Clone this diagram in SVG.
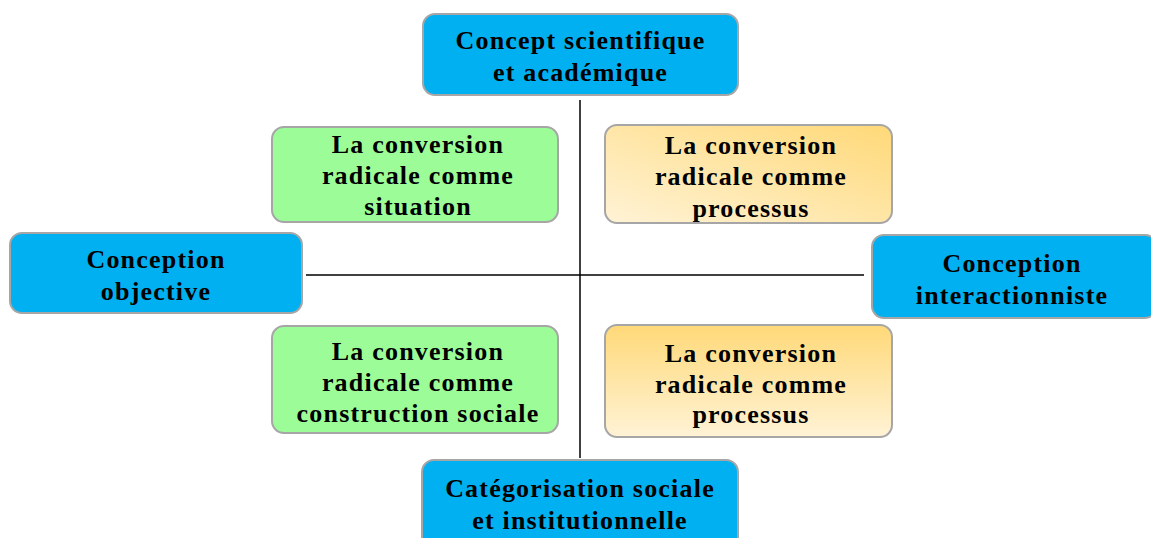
<svg xmlns="http://www.w3.org/2000/svg" width="1151" height="538" viewBox="0 0 1151 538">
<defs>
<linearGradient id="gOr1" x1="1" y1="0" x2="0" y2="1">
<stop offset="0" stop-color="#FFD978"/>
<stop offset="1" stop-color="#FFF3D6"/>
</linearGradient>
<linearGradient id="gOr2" x1="0" y1="0" x2="0" y2="1">
<stop offset="0" stop-color="#FFD978"/>
<stop offset="1" stop-color="#FFF3D6"/>
</linearGradient>
</defs>
<style>
.box{stroke:#A6A6A6;stroke-width:2}
.blue{fill:#00B0F0}
.green{fill:#9CFC98}
.t{font-family:"Liberation Serif","Times New Roman",serif;font-weight:bold;font-size:26px;letter-spacing:1.2px;fill:#000;text-anchor:middle}
.ln{stroke:#000;stroke-width:1.5;fill:none}
</style>
<rect width="1151" height="538" fill="#fff"/>
<g id="connectors">
<line class="ln" x1="580" y1="100" x2="580" y2="458"/>
<line class="ln" x1="306" y1="275" x2="864" y2="275"/>
</g>
<g id="top">
<rect class="box blue" x="423" y="14" width="315" height="81" rx="12"/>
<text class="t" x="580.5" y="49">Concept scientifique</text>
<text class="t" x="580.5" y="81">et académique</text>
</g>
<g id="green-top">
<rect class="box green" x="272" y="127" width="286" height="95" rx="12"/>
<text class="t" x="418" y="153">La conversion</text>
<text class="t" x="418" y="184">radicale comme</text>
<text class="t" x="418" y="215">situation</text>
</g>
<g id="orange-top">
<rect class="box" fill="url(#gOr1)" x="605" y="125" width="287" height="98" rx="12"/>
<text class="t" x="751" y="154">La conversion</text>
<text class="t" x="751" y="185">radicale comme</text>
<text class="t" x="751" y="217">processus</text>
</g>
<g id="left">
<rect class="box blue" x="10" y="233" width="292" height="80" rx="12"/>
<text class="t" x="156" y="268">Conception</text>
<text class="t" x="156" y="300">objective</text>
</g>
<g id="right">
<rect class="box blue" x="872" y="235" width="285" height="83" rx="12"/>
<text class="t" x="1012" y="272">Conception</text>
<text class="t" x="1012" y="304">interactionniste</text>
</g>
<g id="green-bottom">
<rect class="box green" x="272" y="326" width="286" height="107" rx="12"/>
<text class="t" x="418" y="360">La conversion</text>
<text class="t" x="418" y="391">radicale comme</text>
<text class="t" x="418" y="422">construction sociale</text>
</g>
<g id="orange-bottom">
<rect class="box" fill="url(#gOr2)" x="605" y="325" width="287" height="112" rx="12"/>
<text class="t" x="751" y="362">La conversion</text>
<text class="t" x="751" y="393">radicale comme</text>
<text class="t" x="751" y="423">processus</text>
</g>
<g id="bottom">
<rect class="box blue" x="422" y="460" width="316" height="90" rx="12"/>
<text class="t" x="580" y="497">Catégorisation sociale</text>
<text class="t" x="580" y="529">et institutionnelle</text>
</g>
</svg>
